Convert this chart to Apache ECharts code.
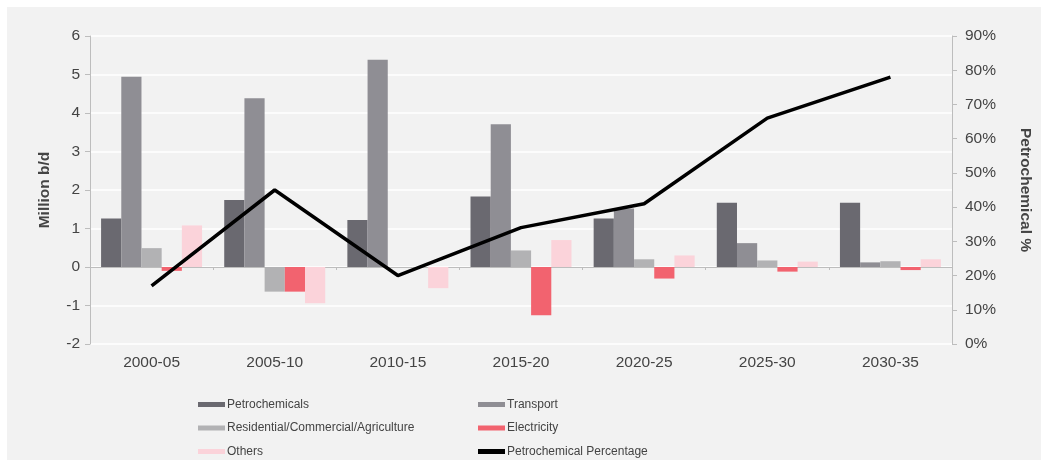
<!DOCTYPE html>
<html>
<head>
<meta charset="utf-8">
<script src="https://cdn.jsdelivr.net/npm/echarts@6/dist/echarts.min.js"></script>
<style>
html,body{margin:0;padding:0;background:#ffffff;}
#c{width:1041px;height:460px;}
</style>
</head>
<body>
<div id="c"></div>
<script>
const categories = ['2000-05','2005-10','2010-15','2015-20','2020-25','2025-30','2030-35'];
const petrochemicals = [1.26, 1.74, 1.22, 1.83, 1.26, 1.67, 1.67];
const transport = [4.94, 4.38, 5.38, 3.71, 1.52, 0.62, 0.12];
const residential = [0.49, -0.64, 0.0, 0.43, 0.2, 0.17, 0.15];
const electricity = [-0.1, -0.64, 0.0, -1.25, -0.3, -0.12, -0.08];
const others = [1.08, -0.94, -0.55, 0.7, 0.3, 0.14, 0.2];
const petroPct = [17, 45, 20, 34, 41, 66, 78];

const colors = {
  petro:'#6a6970', transport:'#8f8e94', residential:'#b2b2b4', electricity:'#f2636f', others:'#fbd3da', line:'#000000'
};
const txt = '#444444';
const font = 'Liberation Sans, Arial, sans-serif';

const chart = echarts.init(document.getElementById('c'), null, {renderer:'canvas'});
function bar(name, data, color){
  return {name, type:'bar', data, xAxisIndex:0, yAxisIndex:0, barGap:'0%', barCategoryGap:'18%',
    itemStyle:{color}, emphasis:{disabled:true}};
}
const legendCommon = {orient:'vertical', itemWidth:27, itemHeight:5, itemGap:11.5, padding:0,
  textStyle:{color:txt, fontSize:12, fontFamily:font, padding:[0,0,0,-3]}, icon:'rect', selectedMode:false, top:398.5};
chart.setOption({
  animation:false,
  backgroundColor:'#f2f2f2',
  textStyle:{fontFamily:font},
  graphic:[
    {type:'rect', left:0, top:0, shape:{width:1041, height:7}, style:{fill:'#ffffff'}, silent:true},
    {type:'rect', left:0, top:0, shape:{width:7, height:460}, style:{fill:'#ffffff'}, silent:true}
  ],
  grid:{left:90, right:86, top:36, bottom:116},
  legend:[
    Object.assign({}, legendCommon, {left:198, data:[
      {name:'Petrochemicals'},{name:'Residential/Commercial/Agriculture'},{name:'Others'}]}),
    Object.assign({}, legendCommon, {left:478, data:[
      {name:'Transport'},{name:'Electricity'},
      {name:'Petrochemical Percentage', icon:'rect', itemStyle:{color:'#000'}}]})
  ],
  xAxis:[
    {type:'category', data:categories, position:'bottom',
      axisLine:{show:false, onZero:false}, axisTick:{show:false},
      axisLabel:{color:txt, fontSize:15.5, margin:11}},
    {type:'category', data:categories, position:'top',
      axisLine:{show:true, onZero:true, lineStyle:{color:'#bdbdbd', width:1}},
      axisTick:{show:true, inside:true, length:3, lineStyle:{color:'#bdbdbd'}},
      axisLabel:{show:false}}
  ],
  yAxis:[
    {type:'value', min:-2, max:6, interval:1, position:'left',
      name:'Million b/d', nameLocation:'middle', nameGap:37, nameRotate:90,
      nameTextStyle:{color:txt, fontSize:15.5, fontWeight:'bold'},
      axisLine:{show:true, lineStyle:{color:'#bdbdbd'}},
      axisTick:{show:true, length:5, lineStyle:{color:'#bdbdbd'}},
      axisLabel:{color:txt, fontSize:15.5, margin:10},
      splitLine:{show:true, lineStyle:{color:'#ffffff', width:1.5}}},
    {type:'value', min:0, max:90, interval:10, position:'right',
      name:'Petrochemical %', nameLocation:'middle', nameGap:65, nameRotate:-90,
      nameTextStyle:{color:txt, fontSize:15.5, fontWeight:'bold'},
      axisLine:{show:true, lineStyle:{color:'#bdbdbd'}},
      axisTick:{show:true, length:5, lineStyle:{color:'#bdbdbd'}},
      axisLabel:{color:txt, fontSize:15.5, margin:13, formatter:'{value}%'},
      splitLine:{show:false}}
  ],
  series:[
    bar('Petrochemicals', petrochemicals, colors.petro),
    bar('Transport', transport, colors.transport),
    bar('Residential/Commercial/Agriculture', residential, colors.residential),
    bar('Electricity', electricity, colors.electricity),
    bar('Others', others, colors.others),
    {name:'Petrochemical Percentage', type:'line', data:petroPct, xAxisIndex:0, yAxisIndex:1,
      symbol:'none', lineStyle:{color:colors.line, width:3.5}, itemStyle:{color:colors.line}, z:5}
  ]
});
</script>
</body>
</html>
